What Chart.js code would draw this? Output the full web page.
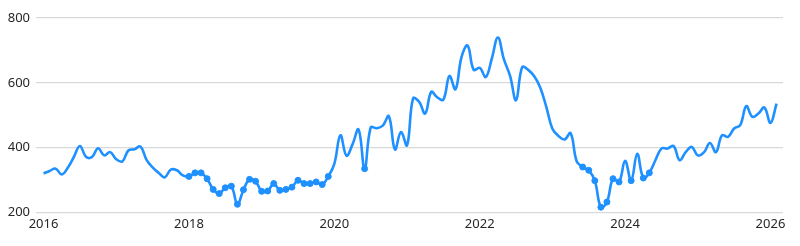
<!DOCTYPE html>
<html>
<head>
<meta charset="utf-8">
<script src="https://cdn.jsdelivr.net/npm/chart.js@4/dist/chart.umd.min.js"></script>
<style>
  html, body { margin: 0; padding: 0; background: #fff; }
  #wrap { width: 800px; height: 246px; }
</style>
</head>
<body>
<div id="wrap"><canvas id="c" width="800" height="246"></canvas></div>
<script>
// Monthly series, Jan 2016 .. Feb 2026
const startYear = 2016;
const values = [
  320, 328, 335, 317, 338, 371, 405, 372, 371, 398, 376, 386,
  364, 357, 391, 395, 403, 362, 339, 322, 308, 332, 330, 314,
  311, 322, 322, 304, 271, 258, 276, 281, 225, 270, 302, 296,
  265, 266, 289, 268, 271, 278, 299, 289, 289, 294, 286, 311,
  350, 438, 375, 410, 456, 335, 462, 460, 468, 497, 394, 448,
  407, 552, 541, 505, 572, 555, 548, 621, 580, 680, 715, 640,
  646, 618, 675, 740, 672, 622, 546, 648, 640, 620, 585, 525,
  458, 436, 425, 445, 358, 340, 330, 298, 216, 232, 304, 294,
  359, 298, 381, 306, 322, 361, 397, 397, 405, 361, 386, 402,
  376, 385, 414, 386, 438, 433, 459, 469, 528, 495, 505, 524,
  476, 536
];
const xTickLabels = [2016, 2018, 2020, 2022, 2024, 2026];
const yTickLabels = [200, 400, 600, 800];

const points = values.map((v, i) => ({ x: startYear + i / 12, y: v }));
const blue = 'rgb(30,144,255)';

new Chart(document.getElementById('c'), {
  type: 'line',
  data: {
    datasets: [{
      data: points,
      borderColor: blue,
      backgroundColor: blue,
      borderWidth: 2.6,
      tension: 0.4,
      pointRadius: (ctx) => (ctx.raw && ctx.raw.x >= 2018 && ctx.raw.y < 345) ? 3 : 0,
      pointBorderWidth: 1,
      pointBackgroundColor: blue,
      pointBorderColor: blue,
      fill: false
    }]
  },
  options: {
    responsive: false,
    animation: false,
    devicePixelRatio: 1,
    layout: { padding: { left: 0, right: 17, top: 18, bottom: 10 } },
    plugins: { legend: { display: false }, tooltip: { enabled: false } },
    scales: {
      x: {
        type: 'linear',
        min: 2015.896,
        max: 2026.172,
        grid: { display: false, drawTicks: false },
        border: { display: false },
        afterBuildTicks: (s) => { s.ticks = xTickLabels.map(v => ({ value: v })); },
        ticks: {
          autoSkip: false,
          maxRotation: 0,
          padding: 4,
          color: '#262626',
          font: { family: 'Noto Sans', size: 13 },
          callback: (v) => String(v)
        }
      },
      y: {
        min: 200,
        max: 800,
        afterFit: (s) => { s.width = 36; },
        afterBuildTicks: (s) => { s.ticks = yTickLabels.map(v => ({ value: v })); },
        grid: { color: '#d9d9d9', lineWidth: 1.2, drawTicks: false },
        border: { display: false },
        ticks: {
          padding: 6,
          color: '#262626',
          font: { family: 'Noto Sans', size: 13 },
          callback: (v) => String(v)
        }
      }
    }
  }
});
</script>
</body>
</html>
